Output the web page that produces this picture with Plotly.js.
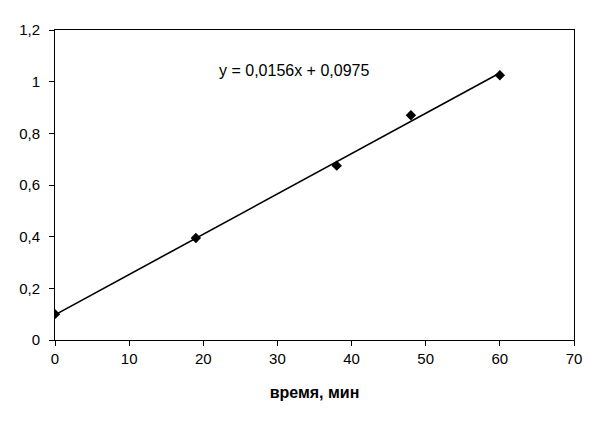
<!DOCTYPE html>
<html>
<head>
<meta charset="utf-8">
<script src="https://cdn.plot.ly/plotly-3.0.1.min.js"></script>
<style>html,body{margin:0;padding:0;background:#fff;}#chart{width:590px;height:427px;}</style>
</head>
<body>
<div id="chart"></div>
<script>
const timeMin = [0, 19, 38, 48, 60];
const values = [0.1, 0.395, 0.675, 0.87, 1.025];
const slope = 0.0156;
const intercept = 0.0975;
const equationText = 'y = 0,0156x + 0,0975';
const xTitle = 'время, мин';

const xMin = Math.min(...timeMin), xMax = Math.max(...timeMin);
const trendX = [xMin, xMax];
const trendY = trendX.map(x => slope * x + intercept);

const fam = 'Liberation Sans, Arial, sans-serif';
const tickFont = {family: fam, size: 15, color: '#000'};
const eqFont = {family: fam, size: 16, color: '#000'};
const titleFont = {family: fam, size: 16, color: '#000'};

Plotly.newPlot('chart', [
  {x: trendX, y: trendY, mode: 'lines', line: {color: '#000', width: 1.6}, hoverinfo: 'skip'},
  {x: timeMin, y: values, mode: 'markers', marker: {symbol: 'diamond', size: 8, color: '#000'}}
], {
  width: 590, height: 427,
  margin: {l: 55, r: 16, t: 30, b: 87},
  paper_bgcolor: '#fff', plot_bgcolor: '#fff',
  separators: ', ',
  showlegend: false,
  font: tickFont,
  xaxis: {
    range: [0, 70], dtick: 10, tick0: 0,
    showgrid: false, zeroline: false,
    showline: true, mirror: true, linecolor: '#000', linewidth: 1,
    ticks: 'outside', ticklen: 5, tickcolor: '#000',
    tickfont: tickFont,
    title: {text: '<b>' + xTitle + '</b>', font: titleFont, standoff: 20}
  },
  yaxis: {
    range: [0, 1.2], dtick: 0.2, tick0: 0,
    showgrid: false, zeroline: false,
    showline: true, mirror: true, linecolor: '#000', linewidth: 1,
    ticks: 'outside', ticklen: 5, tickcolor: '#000',
    tickfont: tickFont, ticklabelstandoff: 6
  },
  annotations: [{
    x: 32.2, y: 1.045, xref: 'x', yref: 'y',
    text: equationText, showarrow: false, font: eqFont
  }]
}, {staticPlot: true});
</script>
</body>
</html>
